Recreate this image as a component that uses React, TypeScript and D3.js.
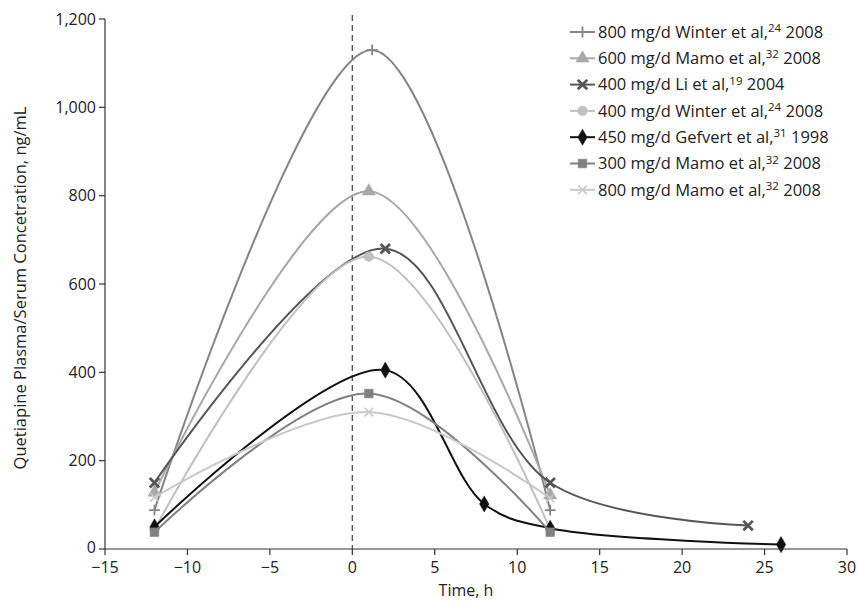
import React from 'react';
import * as d3 from 'd3';

// tick values on the two axes
const xTicks = [-15, -10, -5, 0, 5, 10, 15, 20, 25, 30];
const yTicks = [0, 200, 400, 600, 800, 1000, 1200];

// legend labels: text, superscript reference, year
const legendText = [
  '800 mg/d Winter et al,',
  '600 mg/d Mamo et al,',
  '400 mg/d Li et al,',
  '400 mg/d Winter et al,',
  '450 mg/d Gefvert et al,',
  '300 mg/d Mamo et al,',
  '800 mg/d Mamo et al,',
];
const legendRefs = ['24', '32', '19', '24', '31', '32', '32'];
const legendYears = ['2008', '2008', '2004', '2008', '1998', '2008', '2008'];

// time (h) and concentration (ng/mL) for each series
const winter800Time = [-12, 1.2, 12];
const winter800Conc = [88, 1130, 88];
const mamo600Time = [-12, 1, 12];
const mamo600Conc = [128, 810, 122];
const li400Time = [-12, 2, 12, 24];
const li400Conc = [150, 680, 150, 53];
const winter400Time = [-12, 1, 12];
const winter400Conc = [44, 662, 44];
const gefvert450Time = [-12, 2, 8, 12, 26];
const gefvert450Conc = [50, 405, 102, 47, 10];
const mamo300Time = [-12, 1, 12];
const mamo300Conc = [38, 352, 38];
const mamo800Time = [-12, 1, 12];
const mamo800Conc = [117, 310, 115];

const times = [winter800Time, mamo600Time, li400Time, winter400Time, gefvert450Time, mamo300Time, mamo800Time];
const concs = [winter800Conc, mamo600Conc, li400Conc, winter400Conc, gefvert450Conc, mamo300Conc, mamo800Conc];

const colors = ['#858585', '#a8a8a8', '#555555', '#c0c0c0', '#111111', '#808080', '#c8c8c8'];
const symbols = [d3.symbolPlus, d3.symbolTriangle, d3.symbolX, d3.symbolCircle, d3.symbolDiamond, d3.symbolSquare, d3.symbolX];
const strokeSymbol = [true, false, true, false, false, false, true];
const symbolSizes = [40, 75, 60, 75, 75, 75, 50];
const symbolStroke = [1.8, 0, 2.8, 0, 0, 0, 1.6];

const font = '"Open Sans", sans-serif';

export default function App() {
  const width = 858;
  const height = 602;
  const left = 105;
  const right = 847;
  const top = 19;
  const bottom = 549;

  const x = d3.scaleLinear().domain([-15, 30]).range([left, right]);
  const y = d3.scaleLinear().domain([0, 1200]).range([bottom, top]);
  const fmtY = d3.format(',');
  const fmtX = d3.format('');

  const line = d3
    .line<[number, number]>()
    .x((d) => x(d[0]))
    .y((d) => y(d[1]))
    .curve(d3.curveCatmullRom.alpha(0.5));

  const marker = (i: number) => d3.symbol().type(symbols[i]).size(symbolSizes[i])() || '';

  const markerEl = (i: number, cx: number, cy: number, key: string) =>
    strokeSymbol[i] ? (
      <path key={key} d={marker(i)} transform={`translate(${cx},${cy})`} fill="none" stroke={colors[i]} strokeWidth={symbolStroke[i]} />
    ) : (
      <path key={key} d={marker(i)} transform={`translate(${cx},${cy})`} fill={colors[i]} stroke={colors[i]} strokeWidth={0.5} />
    );

  const legendX = 570;
  const legendY0 = 32;
  const legendStep = 26.3;

  return (
    <svg width={width} height={height} style={{ position: 'absolute', left: 0, top: 0, background: '#fff' }} fontFamily={font}>
      {/* dashed line at time 0 */}
      <line x1={x(0)} x2={x(0)} y1={15} y2={bottom} stroke="#555" strokeWidth={1.4} strokeDasharray="6,4" />

      {/* series */}
      {times.map((t, i) => {
        const pts = t.map((v, j) => [v, concs[i][j]] as [number, number]);
        return (
          <g key={'s' + i}>
            <path d={line(pts) || ''} fill="none" stroke={colors[i]} strokeWidth={2} />
            {pts.map((p, j) => markerEl(i, x(p[0]), y(p[1]), 'm' + i + '-' + j))}
          </g>
        );
      })}

      {/* y axis */}
      <line x1={left} x2={left} y1={top} y2={bottom} stroke="#333" strokeWidth={1.2} />
      {yTicks.map((t) => (
        <g key={'y' + t}>
          <line x1={left - 6} x2={left} y1={y(t)} y2={y(t)} stroke="#333" strokeWidth={1.2} />
          <text x={left - 9} y={y(t) - (t === 0 ? 2 : 0)} dy="0.35em" textAnchor="end" fontSize={16} fill="#222">
            {fmtY(t)}
          </text>
        </g>
      ))}

      {/* x axis */}
      <line x1={left} x2={right} y1={bottom} y2={bottom} stroke="#333" strokeWidth={1.2} />
      {xTicks.map((t) => (
        <g key={'x' + t}>
          <line x1={x(t)} x2={x(t)} y1={bottom} y2={bottom + 6} stroke="#333" strokeWidth={1.2} />
          <text x={x(t)} y={bottom + 24} textAnchor="middle" fontSize={16} fill="#222">
            {t < 0 ? '\u2212' + fmtX(-t) : fmtX(t)}
          </text>
        </g>
      ))}

      <text x={466} y={596} textAnchor="middle" fontSize={16} fill="#222">
        Time, h
      </text>
      <text transform={`translate(26,${(top + bottom) / 2 + 4}) rotate(-90)`} textAnchor="middle" fontSize={16.5} fill="#222">
        Quetiapine Plasma/Serum Concetration, ng/mL
      </text>

      {/* legend */}
      {legendText.map((txt, i) => {
        const ly = legendY0 + i * legendStep;
        return (
          <g key={'l' + i}>
            <line x1={legendX} x2={legendX + 25} y1={ly} y2={ly} stroke={colors[i]} strokeWidth={2} />
            {markerEl(i, legendX + 12.5, ly, 'lm' + i)}
            <text x={legendX + 28} y={ly} dy="0.35em" fontSize={16.5} fill="#222">
              {txt}
              <tspan fontSize={11.5} dy="-0.5em">{legendRefs[i]}</tspan>
              <tspan dy="0.35em">{' ' + legendYears[i]}</tspan>
            </text>
          </g>
        );
      })}
    </svg>
  );
}
